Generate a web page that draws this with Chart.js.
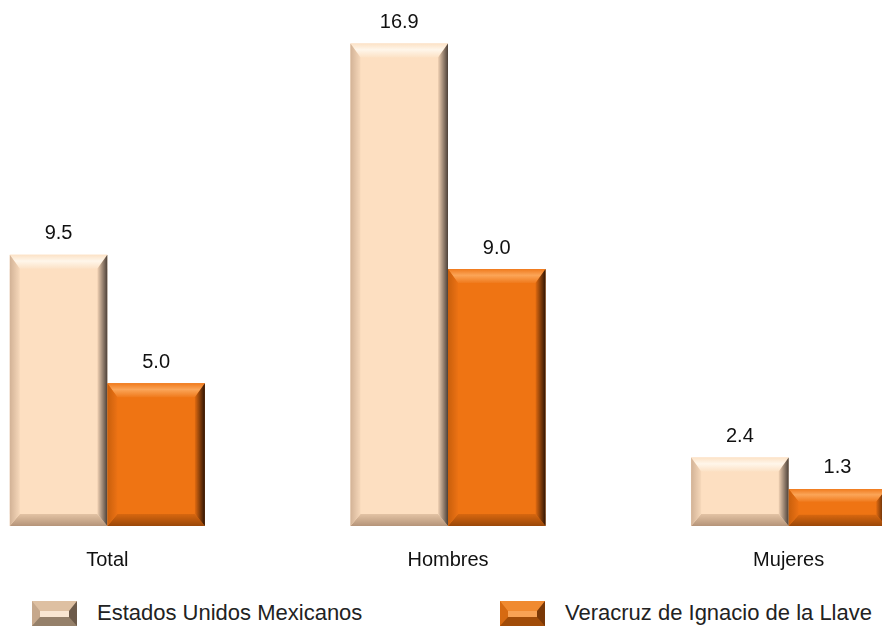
<!DOCTYPE html>
<html>
<head>
<meta charset="utf-8">
<script src="https://cdn.jsdelivr.net/npm/chart.js@4.4.1/dist/chart.umd.min.js"></script>
<style>
  html, body { margin: 0; padding: 0; background: #fff; overflow: hidden; }
  #frame { position: relative; width: 882px; height: 628px; overflow: hidden; font-family: "Liberation Sans", Arial, sans-serif; }
  #bar-Chart { position: absolute; left: -63px; top: 0; }
  .leg-box { position: absolute; top: 601px; width: 45px; height: 25px; box-sizing: border-box; border-style: solid; border-width: 10px 8px 9px 8px; }
  .leg-text { position: absolute; top: 600px; font-size: 22px; line-height: 26px; color: #222; white-space: nowrap; }
</style>
</head>
<body>
<div id="frame">
  <canvas id="bar-Chart" width="1022" height="594"></canvas>
  <div id="legend"></div>
</div>
<script>
const categories = ["Total", "Hombres", "Mujeres"];
const seriesNames = ["Estados Unidos Mexicanos", "Veracruz de Ignacio de la Llave"];
const nationalValues = [9.5, 16.9, 2.4];
const veracruzValues = [5.0, 9.0, 1.3];

// face + bevel colours for each series
const looks = [
  { face: "#FDDFC1", top: ["#FFF6EA", "#FCE2C6"], left: ["#D2B296", "#F6D8BA"], right: ["#F2D2B4", "#4C4038"], bottom: ["#E3C3A4", "#B59479"],
    legend: { bg: "#F9E6D2", t: "#DEC0A2", l: "#C6A88C", r: "#6C5A4A", b: "#95806A" } },
  { face: "#EF7413", top: ["#FBA558", "#F07A1C"], left: ["#C95F0C", "#EC7214"], right: ["#E06A10", "#2E1404"], bottom: ["#D8670F", "#9A4708"],
    legend: { bg: "#F8A254", t: "#F08A30", l: "#D66A12", r: "#7A3806", b: "#A14C08" } }
];

const bevelPlugin = {
  id: "bevel",
  afterDatasetsDraw(chart) {
    const c = chart.ctx;
    chart.data.datasets.forEach((ds, di) => {
      const look = looks[di];
      chart.getDatasetMeta(di).data.forEach((bar, i) => {
        const l = bar.x - bar.width / 2, r = bar.x + bar.width / 2;
        const t = bar.y, b = bar.base;
        const h = b - t;
        const bt = Math.min(14, h * 0.35), bb = Math.min(12, h * 0.3), bs = Math.min(10, h * 0.3);
        const grad = (x0, y0, x1, y1, cols) => {
          const g = c.createLinearGradient(x0, y0, x1, y1);
          g.addColorStop(0, cols[0]); g.addColorStop(1, cols[1]);
          return g;
        };
        const poly = (pts, fill) => {
          c.beginPath();
          c.moveTo(pts[0][0], pts[0][1]);
          pts.slice(1).forEach(p => c.lineTo(p[0], p[1]));
          c.closePath();
          c.fillStyle = fill;
          c.fill();
        };
        c.save();
        // top
        const tg = c.createLinearGradient(0, t, 0, t + bt);
        tg.addColorStop(0, look.top[1]); tg.addColorStop(0.45, look.top[0]); tg.addColorStop(1, look.top[1]);
        poly([[l, t], [r, t], [r - bs, t + bt], [l + bs, t + bt]], tg);
        // bottom
        poly([[l, b], [r, b], [r - bs, b - bb], [l + bs, b - bb]], grad(0, b - bb, 0, b, look.bottom));
        // left
        poly([[l, t], [l + bs, t + bt], [l + bs, b - bb], [l, b]], grad(l, 0, l + bs, 0, look.left));
        // right
        poly([[r, t], [r - bs, t + bt], [r - bs, b - bb], [r, b]], grad(r - bs, 0, r, 0, look.right));
        c.restore();

        // value label
        c.save();
        c.font = "20px 'Liberation Sans', Arial, sans-serif";
        c.fillStyle = "#111";
        c.textAlign = "center";
        c.textBaseline = "bottom";
        c.fillText(ds.data[i].toFixed(1), bar.x, t - 11);
        c.restore();
      });
    });
  }
};

const ctx = document.getElementById("bar-Chart");
const barChart = new Chart(ctx, {
  type: "bar",
  data: {
    labels: categories,
    datasets: [
      {
        label: seriesNames[0],
        data: nationalValues,
        backgroundColor: looks[0].face,
        borderWidth: 0,
      },
      {
        label: seriesNames[1],
        data: veracruzValues,
        backgroundColor: looks[1].face,
        borderWidth: 0,
      },
    ],
  },
  options: {
    responsive: false,
    animation: false,
    layout: { padding: 0 },
    categoryPercentage: 0.5727,
    barPercentage: 1,
    plugins: {
      legend: { display: false },
      tooltip: { enabled: false },
    },
    scales: {
      x: {
        grid: { display: false, drawTicks: false },
        border: { display: false },
        ticks: {
          color: "#111",
          padding: 22,
          font: { family: "'Liberation Sans', Arial, sans-serif", size: 20 },
        },
      },
      y: {
        display: false,
        min: 0,
        max: 18.42,
      },
    },
  },
  plugins: [bevelPlugin],
});

// legend built from the series names
const legend = document.getElementById("legend");
const legPos = [[32, 97], [500, 565]];
seriesNames.forEach((name, i) => {
  const lg = looks[i].legend;
  const box = document.createElement("div");
  box.className = "leg-box";
  box.style.left = legPos[i][0] + "px";
  box.style.background = lg.bg;
  box.style.borderColor = `${lg.t} ${lg.r} ${lg.b} ${lg.l}`;
  legend.appendChild(box);
  const txt = document.createElement("div");
  txt.className = "leg-text";
  txt.style.left = legPos[i][1] + "px";
  txt.textContent = name;
  legend.appendChild(txt);
});
</script>
</body>
</html>
